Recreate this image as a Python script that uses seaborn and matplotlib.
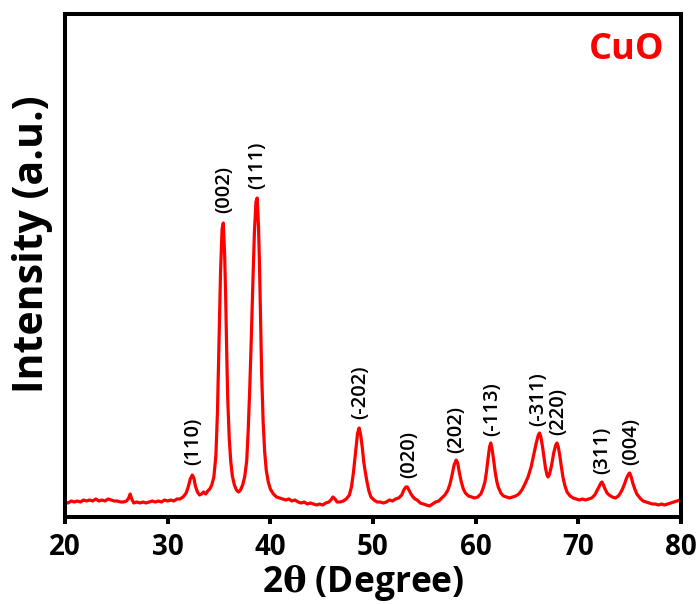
import matplotlib
matplotlib.use("Agg")
import matplotlib.pyplot as plt
import seaborn as sns
import pandas as pd

# ---- data (2-theta in degrees, intensity in arbitrary units) ----
two_theta = [
    20.0, 20.3, 20.6, 20.9, 21.2, 21.5, 21.8, 22.1, 22.4, 22.7, 23.0, 23.3, 23.6, 23.9,
    24.2, 24.5, 24.8, 25.1, 25.4, 25.7, 26.0, 26.2, 26.35, 26.5, 26.7, 27.0, 27.3, 27.6,
    27.9, 28.2, 28.5, 28.8, 29.1, 29.4, 29.7, 30.0, 30.3, 30.6, 30.9, 31.2, 31.5, 31.8,
    32.0, 32.2, 32.4, 32.55, 32.7, 32.9, 33.1, 33.3, 33.5, 33.7, 33.9, 34.1, 34.3, 34.5,
    34.7, 34.85, 35.0, 35.15, 35.3, 35.42, 35.55, 35.65, 35.75, 35.85, 36.0, 36.15, 36.3,
    36.5, 36.7, 36.9, 37.1, 37.3, 37.5, 37.7, 37.85, 38.0, 38.15, 38.3, 38.45, 38.6, 38.72,
    38.85, 38.95, 39.05, 39.15, 39.3, 39.45, 39.6, 39.8, 40.0, 40.3, 40.6, 40.9, 41.2,
    41.5, 41.8, 42.1, 42.4, 42.7, 43.0, 43.3, 43.6, 43.9, 44.2, 44.5, 44.8, 45.1, 45.4,
    45.7, 45.9, 46.1, 46.3, 46.5, 46.8, 47.1, 47.4, 47.7, 47.9, 48.1, 48.3, 48.5, 48.65,
    48.8, 48.95, 49.1, 49.25, 49.4, 49.6, 49.8, 50.1, 50.4, 50.7, 51.0, 51.3, 51.6, 51.9,
    52.2, 52.5, 52.8, 53.0, 53.2, 53.35, 53.5, 53.7, 53.9, 54.1, 54.3, 54.6, 54.9, 55.2,
    55.5, 55.8, 56.1, 56.4, 56.7, 57.0, 57.3, 57.5, 57.7, 57.9, 58.1, 58.25, 58.4, 58.6,
    58.8, 59.0, 59.3, 59.6, 59.9, 60.2, 60.5, 60.7, 60.9, 61.05, 61.2, 61.35, 61.47, 61.6,
    61.75, 61.9, 62.05, 62.2, 62.45, 62.7, 63.0, 63.3, 63.6, 63.9, 64.2, 64.5, 64.8, 65.1,
    65.4, 65.65, 65.9, 66.1, 66.22, 66.35, 66.5, 66.65, 66.8, 66.95, 67.05, 67.2, 67.4,
    67.6, 67.8, 67.92, 68.05, 68.2, 68.35, 68.5, 68.7, 68.9, 69.2, 69.5, 69.8, 70.1, 70.4,
    70.7, 71.0, 71.3, 71.6, 71.8, 72.0, 72.2, 72.3, 72.45, 72.6, 72.8, 73.0, 73.3, 73.6,
    73.9, 74.1, 74.3, 74.5, 74.7, 74.9, 75.0, 75.15, 75.3, 75.5, 75.7, 76.0, 76.3, 76.6,
    76.9, 77.2, 77.5, 77.8, 78.1, 78.4, 78.7, 79.0, 79.3, 79.6, 79.9, 80.0,
]
intensity = [
    15, 14, 16, 15, 16, 15, 17, 16, 17, 16, 18, 16, 17, 16,
    18, 17, 16, 16, 15, 15, 16, 19, 23, 18, 14, 15, 14, 15,
    14, 15, 16, 15, 16, 15, 17, 16, 17, 16, 18, 18, 20, 24,
    30, 38, 42, 39, 31, 25, 22, 23, 25, 23, 26, 28, 32, 40,
    62, 105, 175, 245, 288, 294, 262, 220, 165, 118, 78, 55, 41,
    32, 27, 25, 27, 32, 40, 56, 88, 130, 180, 235, 285, 315, 319,
    290, 250, 195, 145, 95, 65, 47, 35, 28, 23, 20, 19, 18,
    17, 18, 16, 17, 15, 14, 15, 13, 14, 13, 12, 13, 12, 14,
    15, 17, 20, 18, 15, 15, 16, 18, 22, 30, 45, 65, 84, 89,
    82, 70, 55, 45, 36, 26, 20, 17, 15, 15, 14, 15, 17, 16,
    18, 19, 22, 27, 30, 30, 27, 23, 20, 18, 17, 14, 13, 12,
    11, 13, 15, 16, 19, 22, 27, 33, 42, 52, 57, 54, 45, 35,
    28, 24, 21, 20, 19, 20, 23, 28, 35, 45, 58, 70, 74, 68,
    57, 45, 36, 30, 24, 21, 20, 19, 20, 21, 23, 27, 33, 40,
    50, 62, 74, 82, 84, 80, 71, 60, 49, 42, 40, 43, 52,
    64, 72, 74, 70, 61, 50, 40, 31, 25, 21, 19, 18, 17, 18,
    17, 18, 19, 22, 26, 30, 34, 35, 32, 28, 24, 22, 20, 19,
    21, 24, 28, 33, 39, 43, 44, 40, 34, 28, 23, 19, 16, 15,
    14, 13, 13, 12, 13, 12, 13, 14, 15, 16, 17, 17,
]

hkl_labels = ["(110)", "(002)", "(111)", "(-202)", "(020)", "(202)",
              "(-113)", "(-311)", "(220)", "(311)", "(004)"]
peak_2theta = [32.45, 35.55, 38.75, 48.8, 53.5, 58.15, 61.6, 66.1, 68.05, 72.35, 75.15]
peak_height = [45, 297, 321, 91, 32, 57, 74, 84, 75, 36, 45]

x_ticks = [20, 30, 40, 50, 60, 70, 80]
sample_name = "CuO"

# ---- styling ----
sns.set_theme(style="white")
plt.rcParams["font.family"] = ["Open Sans", "DejaVu Sans"]
plt.rcParams["text.color"] = "black"
plt.rcParams["axes.labelcolor"] = "black"
plt.rcParams["xtick.color"] = "black"
plt.rcParams["ytick.color"] = "black"
plt.rcParams["mathtext.fontset"] = "dejavuserif"

df = pd.DataFrame({"two_theta": two_theta, "intensity": intensity})

fig = plt.figure(figsize=(7.0, 6.04), dpi=100)
ax = fig.add_axes([65 / 700, 1 - 517 / 604, 616 / 700, 503 / 604])

sns.lineplot(data=df, x="two_theta", y="intensity", ax=ax, color="#ff0000",
             linewidth=2.3, estimator=None, sort=False)

ax.set_xlim(20, 80)
ax.set_ylim(0, 503)
ax.set_xticks(x_ticks)
ax.set_xticklabels([str(t) for t in x_ticks])
ax.set_yticks([])

for s in ax.spines.values():
    s.set_linewidth(2.9)
    s.set_color("black")
    s.set_visible(True)

ax.tick_params(axis="x", direction="out", length=5, width=2.9, color="black",
               labelsize=20, pad=6.5, bottom=True, labelcolor="black")
for lab in ax.get_xticklabels():
    lab.set_fontweight("bold")

ax.set_xlabel(r"2$\mathbf{\theta}$ (Degree)", fontsize=25.5, fontweight="bold", color="black")
ax.set_ylabel("Intensity (a.u.)", fontsize=29.5, fontweight="bold", color="black")
ax.yaxis.set_label_coords(-0.02, 0.543)
ax.xaxis.set_label_coords(0.484, -0.092)

for lab, px, py in zip(hkl_labels, peak_2theta, peak_height):
    ax.annotate(lab, xy=(px, py), xytext=(0, 5), textcoords="offset points",
                rotation=90, ha="center", va="bottom", fontsize=14.5,
                fontweight="semibold", color="black")

ax.text(0.974, 0.911, sample_name, transform=ax.transAxes, ha="right",
        va="baseline", fontsize=26, fontweight="bold", color="#ff0000")

fig.savefig("out.png", dpi=100)
